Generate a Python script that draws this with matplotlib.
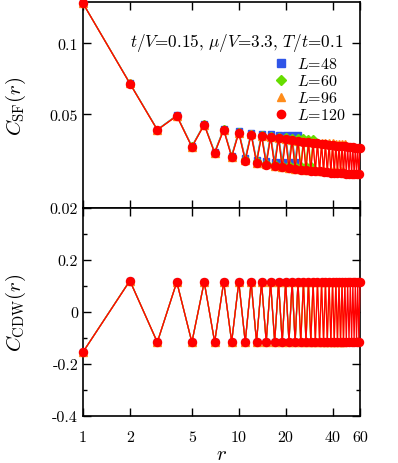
import numpy as np
import matplotlib
matplotlib.use('Agg')
import matplotlib.pyplot as plt
from matplotlib.lines import Line2D
from matplotlib.ticker import FixedLocator, FixedFormatter, NullLocator

plt.rcParams['font.family'] = 'cmr10'
plt.rcParams['mathtext.fontset'] = 'cm'
plt.rcParams['axes.unicode_minus'] = False
plt.rcParams['axes.formatter.use_mathtext'] = True

# ---------------- data ----------------
sizes = [48, 60, 96, 120]
labels = [r'$L$=48', r'$L$=60', r'$L$=96', r'$L$=120']
colors = ['#2f55e8', '#66dd00', '#ff8c1a', '#ff0000']
markers = ['s', 'D', '^', 'o']

# C_SF: odd r (1,3,5,...) and even r (2,4,6,...), up to r = L/2
sf_odd_48 = [0.148, 0.0431, 0.0366, 0.0346, 0.0334, 0.0325, 0.0320, 0.0317, 0.0315, 0.0314, 0.0313, 0.0313]
sf_even_48 = [0.0678, 0.0495, 0.0455, 0.0434, 0.0424, 0.0418, 0.0414, 0.0411, 0.0409, 0.0408, 0.0407, 0.0407]

sf_odd_60 = [0.148, 0.0430, 0.0365, 0.0344, 0.0332, 0.0322, 0.0316, 0.0311, 0.0308, 0.0306, 0.0304, 0.0303,
             0.0302, 0.0302, 0.0301]
sf_even_60 = [0.0677, 0.0494, 0.0453, 0.0432, 0.0421, 0.0414, 0.0409, 0.0405, 0.0402, 0.0399, 0.0397, 0.0396,
              0.0395, 0.0394, 0.0394]

sf_odd_96 = [0.148, 0.0429, 0.0364, 0.0343, 0.0330, 0.0319, 0.0312, 0.0307, 0.0302, 0.0299, 0.0296, 0.0294,
             0.0292, 0.0291, 0.0290, 0.0289, 0.0288, 0.0288, 0.0287, 0.0287, 0.0287, 0.0286, 0.0286, 0.0286]
sf_even_96 = [0.0676, 0.0493, 0.0452, 0.0430, 0.0418, 0.0411, 0.0405, 0.0400, 0.0396, 0.0392, 0.0389, 0.0386,
              0.0384, 0.0382, 0.0380, 0.0379, 0.0378, 0.0377, 0.0376, 0.0376, 0.0375, 0.0375, 0.0375, 0.0375]

sf_odd_120 = [0.148, 0.0429, 0.0363, 0.0342, 0.0329, 0.0318, 0.0311, 0.0306, 0.0301, 0.0298, 0.0295, 0.0293,
              0.0291, 0.0289, 0.0288, 0.0287, 0.0286, 0.0285, 0.0284, 0.0283, 0.0282, 0.0282, 0.0281, 0.0281,
              0.0280, 0.0280, 0.0279, 0.0279, 0.0278, 0.0278]
sf_even_120 = [0.0675, 0.0492, 0.0451, 0.0429, 0.0417, 0.0410, 0.0404, 0.0399, 0.0395, 0.0391, 0.0388, 0.0385,
               0.0382, 0.0380, 0.0378, 0.0376, 0.0374, 0.0373, 0.0371, 0.0370, 0.0368, 0.0367, 0.0366, 0.0365,
               0.0364, 0.0363, 0.0362, 0.0361, 0.0360, 0.0360]

# C_CDW: odd r (negative) and even r (positive)
cdw_odd_48 = [-0.154, -0.117, -0.117, -0.116, -0.116, -0.116, -0.116, -0.116, -0.116, -0.116, -0.116, -0.116]
cdw_even_48 = [0.121, 0.116, 0.116, 0.116, 0.116, 0.116, 0.116, 0.116, 0.116, 0.116, 0.116, 0.116]

cdw_odd_60 = [-0.154, -0.117, -0.117, -0.116, -0.116, -0.116, -0.116, -0.116, -0.116, -0.116, -0.116, -0.116,
              -0.116, -0.116, -0.116]
cdw_even_60 = [0.121, 0.116, 0.116, 0.116, 0.116, 0.116, 0.116, 0.116, 0.116, 0.116, 0.116, 0.116,
               0.116, 0.116, 0.116]

cdw_odd_96 = [-0.154, -0.116, -0.116, -0.115, -0.115, -0.115, -0.115, -0.115, -0.115, -0.115, -0.115, -0.115,
              -0.115, -0.115, -0.115, -0.115, -0.115, -0.115, -0.115, -0.115, -0.115, -0.115, -0.115, -0.115]
cdw_even_96 = [0.120, 0.116, 0.115, 0.115, 0.115, 0.115, 0.115, 0.115, 0.115, 0.115, 0.115, 0.116,
               0.116, 0.116, 0.116, 0.116, 0.116, 0.116, 0.116, 0.116, 0.116, 0.116, 0.116, 0.116]

cdw_odd_120 = [-0.154, -0.116, -0.116, -0.115, -0.115, -0.115, -0.115, -0.115, -0.115, -0.115, -0.115, -0.115,
               -0.115, -0.115, -0.115, -0.115, -0.115, -0.115, -0.115, -0.115, -0.115, -0.115, -0.115, -0.115,
               -0.115, -0.115, -0.115, -0.115, -0.115, -0.115]
cdw_even_120 = [0.120, 0.115, 0.115, 0.115, 0.115, 0.115, 0.115, 0.115, 0.115, 0.115, 0.115, 0.115,
                0.115, 0.115, 0.115, 0.115, 0.115, 0.115, 0.115, 0.115, 0.115, 0.115, 0.115, 0.115,
                0.115, 0.115, 0.115, 0.115, 0.115, 0.115]

sf_odd = [sf_odd_48, sf_odd_60, sf_odd_96, sf_odd_120]
sf_even = [sf_even_48, sf_even_60, sf_even_96, sf_even_120]
cdw_odd = [cdw_odd_48, cdw_odd_60, cdw_odd_96, cdw_odd_120]
cdw_even = [cdw_even_48, cdw_even_60, cdw_even_96, cdw_even_120]

x_ticks = [1, 2, 5, 10, 20, 40, 60]
x_ticklabels = ['1', '2', '5', '10', '20', '40', '60']
sf_ticks = [0.02, 0.05, 0.1]
sf_ticklabels = ['0.02', '0.05', '0.1']
cdw_ticks = [-0.4, -0.2, 0.0, 0.2, 0.4]
cdw_ticklabels = ['-0.4', '-0.2', '0', '0.2', '']
cdw_minor = [-0.3, -0.1, 0.1, 0.3]


def interleave(odd, even):
    n = len(odd) + len(even)
    out = np.empty(n)
    out[0::2] = odd
    out[1::2] = even
    return out


# ---------------- figure ----------------
fig = plt.figure(figsize=(3.98, 4.64), dpi=100)
W, H = 398.0, 464.0
left, right = 83 / W, 360 / W
ax1 = fig.add_axes([left, 1 - 209 / H, right - left, (209 - 3) / H])
ax2 = fig.add_axes([left, 1 - 417 / H, right - left, (417 - 209) / H])

msizes = {'o': 5.8, 's': 5.0, '^': 5.4, 'D': 4.4}
for i, L in enumerate(sizes):
    r = np.arange(1, L // 2 + 1)
    sf = interleave(sf_odd[i], sf_even[i])
    cdw = interleave(cdw_odd[i], cdw_even[i])
    for ax, y in ((ax1, sf), (ax2, cdw)):
        ax.plot(r, y, color=colors[i], lw=0.9, marker=markers[i], ms=msizes[markers[i]],
                mec=colors[i], mfc=colors[i], clip_on=False, zorder=3 + i)

for ax in (ax1, ax2):
    ax.set_xscale('log')
    ax.set_xlim(1, 60)
    ax.xaxis.set_major_locator(FixedLocator(x_ticks))
    ax.xaxis.set_minor_locator(NullLocator())
    for s in ax.spines.values():
        s.set_linewidth(1.2)
    ax.tick_params(which='both', direction='in', top=True, right=True, width=1.0, labelsize=11.5)
    ax.tick_params(which='major', length=6)
    ax.tick_params(which='minor', length=3)

ax2.tick_params(axis='x', pad=10)
ax1.xaxis.set_major_formatter(FixedFormatter([''] * len(x_ticks)))
ax2.xaxis.set_major_formatter(FixedFormatter(x_ticklabels))

ax1.set_yscale('log')
ax1.set_ylim(0.02, 0.15)
ax1.yaxis.set_major_locator(FixedLocator(sf_ticks))
ax1.yaxis.set_major_formatter(FixedFormatter(sf_ticklabels))
ax1.yaxis.set_minor_locator(NullLocator())

ax2.set_ylim(-0.4, 0.4)
ax2.yaxis.set_major_locator(FixedLocator(cdw_ticks))
ax2.yaxis.set_major_formatter(FixedFormatter(cdw_ticklabels))
ax2.yaxis.set_minor_locator(FixedLocator(cdw_minor))

ax1.set_ylabel(r'$C_{\rm SF}(r)$', fontsize=15)
ax2.set_ylabel(r'$C_{\rm CDW}(r)$', fontsize=15)
ax2.set_xlabel(r'$r$', fontsize=15, labelpad=1)
ax1.yaxis.set_label_coords(-0.198, 0.5)
ax2.yaxis.set_label_coords(-0.198, 0.5)

ax1.text(0.94, 0.805, r'$t/V$=0.15, $\mu/V$=3.3, $T/t$=0.1', transform=ax1.transAxes,
         ha='right', va='center', fontsize=12.3)

handles = [Line2D([], [], ls='none', marker=markers[i], color=colors[i], ms=(6.0 if markers[i] != 'D' else 4.8))
           for i in range(len(sizes))]
ax1.legend(handles, labels, loc='upper right', bbox_to_anchor=(0.99, 0.79), frameon=False,
           fontsize=11.5, handlelength=0.8, handletextpad=0.6, labelspacing=0.12, borderpad=0.2)

fig.savefig('out.png', dpi=100)
